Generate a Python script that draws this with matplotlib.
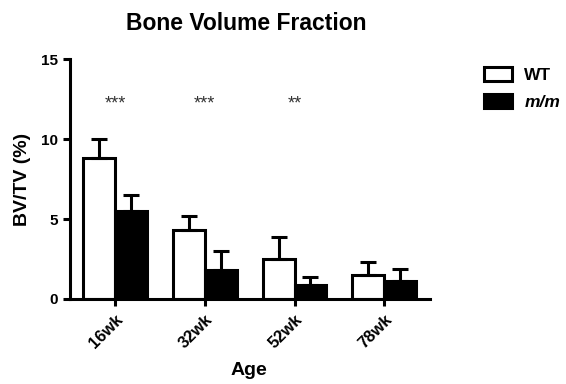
import matplotlib
matplotlib.use("Agg")
import matplotlib.pyplot as plt
import numpy as np
from matplotlib.patches import Patch

plt.rcParams['font.family'] = ['Liberation Sans', 'DejaVu Sans']

categories = ["16wk", "32wk", "52wk", "78wk"]
wt_mean = [8.8, 4.3, 2.5, 1.5]
wt_err = [1.2, 0.9, 1.4, 0.8]
mm_mean = [5.5, 1.8, 0.9, 1.1]
mm_err = [1.0, 1.2, 0.5, 0.75]
signif = ["***", "***", "**", ""]
sig_y = 12.2

fig = plt.figure(figsize=(5.66, 3.84), dpi=100)
ax = fig.add_axes([0.1237, 0.2214, 0.6363, 0.6242])

x = np.arange(len(categories))
w = 0.355
lw = 2.2
ax.bar(x - w/2, wt_mean, width=w, color='white', edgecolor='black', linewidth=lw,
       yerr=[np.zeros(len(wt_err)), wt_err],
       error_kw=dict(ecolor='black', elinewidth=lw, capsize=6, capthick=lw), zorder=2)
ax.bar(x + w/2, mm_mean, width=w, color='black', edgecolor='black', linewidth=lw,
       yerr=[np.zeros(len(mm_err)), mm_err],
       error_kw=dict(ecolor='black', elinewidth=lw, capsize=6, capthick=lw), zorder=2)

for xi, s in zip(x, signif):
    if s:
        ax.text(xi, sig_y, s, ha='center', va='center', fontsize=13, color='#333333')

ax.set_xlim(-0.5, 3.51)
ax.set_ylim(0, 15)
ax.set_yticks([0, 5, 10, 15])
ax.set_xticks(x)
ax.set_xticklabels(categories, rotation=45, ha='right', rotation_mode='anchor',
                   fontsize=12, fontweight='bold')
for lab in ax.get_yticklabels():
    lab.set_fontweight('bold')
    lab.set_fontsize(11)
ax.tick_params(axis='both', direction='out', length=5, width=lw)
ax.tick_params(axis='x', pad=4)
ax.spines['top'].set_visible(False)
ax.spines['right'].set_visible(False)
ax.spines['left'].set_linewidth(lw)
ax.spines['bottom'].set_linewidth(lw)

ax.set_ylabel("BV/TV (%)", fontsize=14, fontweight='bold', labelpad=7)
fig.text(0.44, 0.035, "Age", ha='center', va='center', fontsize=14, fontweight='bold')
fig.text(0.435, 0.94, "Bone Volume Fraction", ha='center', va='center',
         fontsize=16.5, fontweight='bold')

handles = [Patch(facecolor='white', edgecolor='black', linewidth=lw, label='WT'),
           Patch(facecolor='black', edgecolor='black', linewidth=lw, label='m/m')]
leg = fig.legend(handles=handles, loc='upper left', bbox_to_anchor=(0.828, 0.865),
                 frameon=False, fontsize=12.5, handlelength=1.6, handleheight=0.8,
                 labelspacing=0.65, handletextpad=0.7)
texts = leg.get_texts()
texts[0].set_fontweight('bold')
texts[1].set_fontweight('bold')
texts[1].set_fontstyle('italic')

fig.savefig("out.png", dpi=100)
